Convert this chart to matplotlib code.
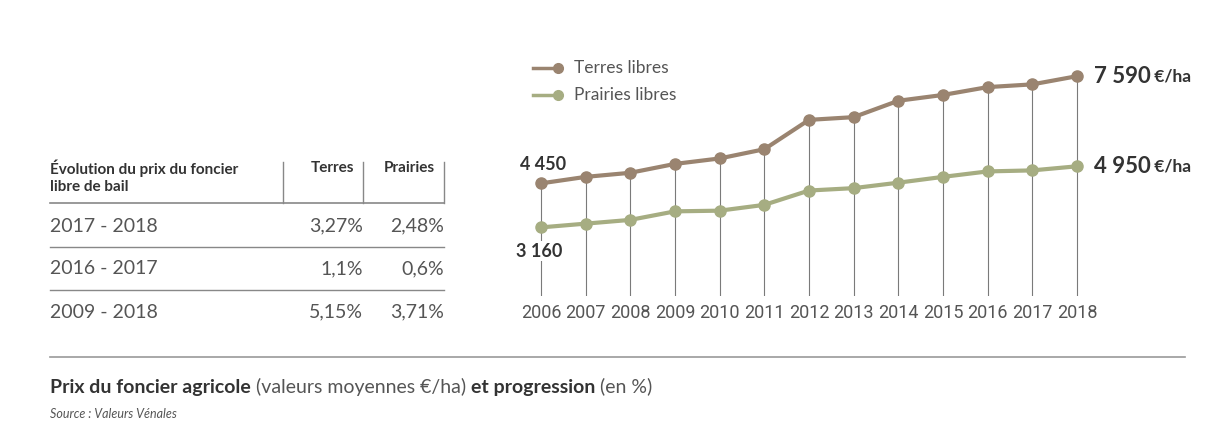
import matplotlib.pyplot as plt
from matplotlib.lines import Line2D

# Données
annees = [2006, 2007, 2008, 2009, 2010, 2011, 2012, 2013, 2014, 2015, 2016, 2017, 2018]
terres = [4450, 4640, 4760, 5020, 5180, 5450, 6310, 6390, 6870, 7040, 7270, 7350, 7590]
prairies = [3160, 3270, 3380, 3630, 3650, 3820, 4240, 4310, 4470, 4640, 4800, 4830, 4950]

periodes = ['2017 - 2018', '2016 - 2017', '2009 - 2018']
prog_terres = ['3,27%', '1,1%', '5,15%']
prog_prairies = ['2,48%', '0,6%', '3,71%']

c_terres = '#9a8470'
c_prairies = '#a6ad82'
c_texte = '#555555'
c_fonce = '#333333'

plt.rcParams['font.family'] = ['Lato', 'DejaVu Sans']

W, H = 1206, 441
fig = plt.figure(figsize=(W / 100, H / 100), dpi=100)
fig.patch.set_facecolor('white')


def fx(px):
    return px / W


def fy(py):
    return 1 - py / H


# Graphique : axes calés en pixels (2006 -> x=541, 2018 -> x=1077)
ax = fig.add_axes([fx(500), fy(296), fx(700), fy(40) - fy(296)])
pas = (1077 - 541) / 12
ax.set_xlim(2006 - 41 / pas, 2018 + 123 / pas)
ax.set_ylim(1150, 8650)
ax.axis('off')

for a, t in zip(annees, terres):
    ax.plot([a, a], [ax.get_ylim()[0], t], color='#7a7a7a', lw=0.8, zorder=1)
    ax.annotate(str(a), (a, ax.get_ylim()[0]), xytext=(0, -6), textcoords='offset points',
                ha='center', va='top', fontsize=13, family=['Roboto', 'DejaVu Sans'],
                color=c_texte, annotation_clip=False)

ax.plot(annees, terres, color=c_terres, lw=3, marker='o', ms=8, zorder=3)
ax.plot(annees, prairies, color=c_prairies, lw=3, marker='o', ms=8, zorder=3)

ax.text(annees[0] + 0.05, terres[0] + 300, '4 450', ha='center', va='bottom',
        fontsize=13, fontweight='bold', color=c_fonce)
ax.text(annees[0] - 0.05, prairies[0] - 450, '3 160', ha='center', va='top',
        fontsize=13, fontweight='bold', color=c_fonce,
        bbox=dict(facecolor='white', edgecolor='none', pad=1))
for v in (terres[-1], prairies[-1]):
    lab = f'{v:,}'.replace(',', ' ')
    t = ax.annotate(lab, (annees[-1], v), xytext=(12, 0), textcoords='offset points',
                    ha='left', va='center', fontsize=16, fontweight='bold', color=c_fonce)
    ax.annotate(' €/ha', xycoords=t, xy=(1, 0.5), ha='left', va='center',
                fontsize=12.5, fontweight='bold', color=c_fonce)

# Légende manuelle
for py, col, lab in [(68, c_terres, 'Terres libres'), (95, c_prairies, 'Prairies libres')]:
    fig.add_artist(Line2D([fx(533), fx(557)], [fy(py), fy(py)], color=col, lw=2.5))
    fig.add_artist(Line2D([fx(558)], [fy(py)], color=col, marker='o', ms=7))
    fig.text(fx(574), fy(py), lab, ha='left', va='center', fontsize=12.5, color=c_texte)

# Tableau
fig.text(fx(50), fy(168), 'Évolution du prix du foncier', ha='left', va='center',
         fontsize=11, fontweight='bold', color=c_fonce)
fig.text(fx(50), fy(187), 'libre de bail', ha='left', va='center',
         fontsize=11, fontweight='bold', color=c_fonce)
fig.text(fx(354), fy(168), 'Terres', ha='right', va='center', fontsize=11,
         fontweight='bold', color=c_fonce)
fig.text(fx(435), fy(168), 'Prairies', ha='right', va='center', fontsize=11,
         fontweight='bold', color=c_fonce)
for px in (283, 363, 444):
    fig.add_artist(Line2D([fx(px), fx(px)], [fy(162), fy(203)], color='#888888', lw=1))
fig.add_artist(Line2D([fx(50), fx(444)], [fy(203), fy(203)], color='#888888', lw=1.2))

for i, (p, vt, vp) in enumerate(zip(periodes, prog_terres, prog_prairies)):
    py = 226 + 43 * i
    fig.text(fx(50), fy(py), p, ha='left', va='center', fontsize=14, color=c_texte)
    fig.text(fx(363), fy(py), vt, ha='right', va='center', fontsize=14, color=c_texte)
    fig.text(fx(444), fy(py), vp, ha='right', va='center', fontsize=14, color=c_texte)
    if i < 2:
        fig.add_artist(Line2D([fx(50), fx(444)], [fy(py + 21), fy(py + 21)],
                              color='#888888', lw=1))

# Pied
fig.add_artist(Line2D([fx(50), fx(1185)], [fy(357), fy(357)], color='#999999', lw=1.2))
morceaux = [('Prix du foncier agricole', 'bold'), (' (valeurs moyennes €/ha) ', 'normal'),
            ('et progression', 'bold'), (' (en %)', 'normal')]
t = fig.text(fx(50), fy(387), morceaux[0][0], ha='left', va='center', fontsize=14,
             fontweight='bold', color=c_fonce)
for txt, w in morceaux[1:]:
    t = fig.add_artist(plt.matplotlib.text.Annotation(
        txt, xy=(1, 0), xycoords=t, ha='left', va='bottom', fontsize=14,
        fontweight=w, color=c_fonce if w == 'bold' else c_texte))
fig.text(fx(50), fy(414), 'Source : Valeurs Vénales', ha='left', va='center',
         fontsize=9, style='italic', color=c_texte)

fig.savefig('out.png', dpi=100, facecolor='white')
